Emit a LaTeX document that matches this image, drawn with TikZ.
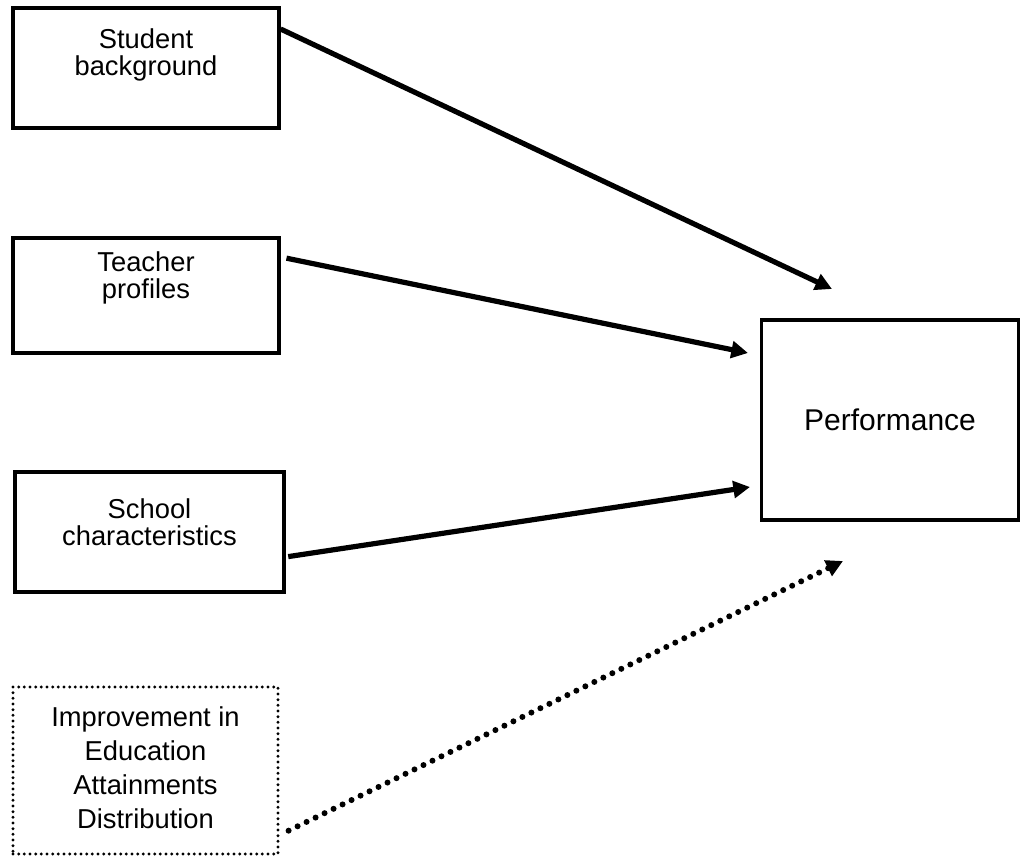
\documentclass[tikz,border=0pt]{standalone}
\usepackage{fontspec}
\setmainfont{Liberation Sans}
\usetikzlibrary{arrows.meta}

\begin{document}
\begin{tikzpicture}[x=0.75pt,y=-0.75pt,
  factor/.style={draw,line width=2.4pt,inner sep=0pt,align=center,
    font=\fontsize{20.5pt}{20.25pt}\selectfont},
  link/.style={line width=3.9pt,-{Triangle[length=12.5pt,width=12.5pt]}},
  dotlink/.style={line width=4.5pt,line cap=round,dash pattern=on 0pt off 7.5pt,
    -{Triangle[length=12.5pt,width=12.5pt]}}]
\useasboundingbox (0,0) rectangle (1021,857);
% the four determinants (text height = top edge to last baseline)
\node[factor,minimum width=199.5pt,text height=50.25pt,text depth=39.75pt] (student) at (146,68) {Student\\background};
\node[factor,minimum width=199.5pt,text height=45pt,text depth=41.25pt] (teacher) at (146,295.5) {Teacher\\profiles};
\node[factor,minimum width=201.75pt,text height=54.75pt,text depth=35.25pt] (school) at (149.5,532) {School\\characteristics};
\node[factor,minimum width=198.75pt,text height=105.75pt,text depth=19.5pt,
  dash pattern=on 0pt off 4.25pt,line cap=round,
  font=\fontsize{20.5pt}{25.5pt}\selectfont] (improve) at (145.5,770.5)
  {Improvement in\\Education\\Attainments\\Distribution};
% outcome
\node[factor,minimum width=192.75pt,minimum height=150pt,
  font=\fontsize{22.5pt}{24pt}\selectfont] (perf) at (890,420) {Performance};
% arrow ends stop short of the box
\coordinate (tipA) at (832,289);
\coordinate (tipB) at (748,353);
\coordinate (tipC) at (750,487);
\coordinate (tipD) at (843,561);
\draw[link] ([yshift=29.25pt]student.east) -- (tipA);
\draw[link,shorten <=4.5pt] ([yshift=28.9pt]teacher.east) -- (tipB);
\draw[link,shorten <=2pt] ([yshift=-18.75pt]school.east) -- (tipC);
\draw[dotlink,shorten <=7.5pt] ([yshift=-48.4pt]improve.east) -- (tipD);
\end{tikzpicture}
\end{document}
